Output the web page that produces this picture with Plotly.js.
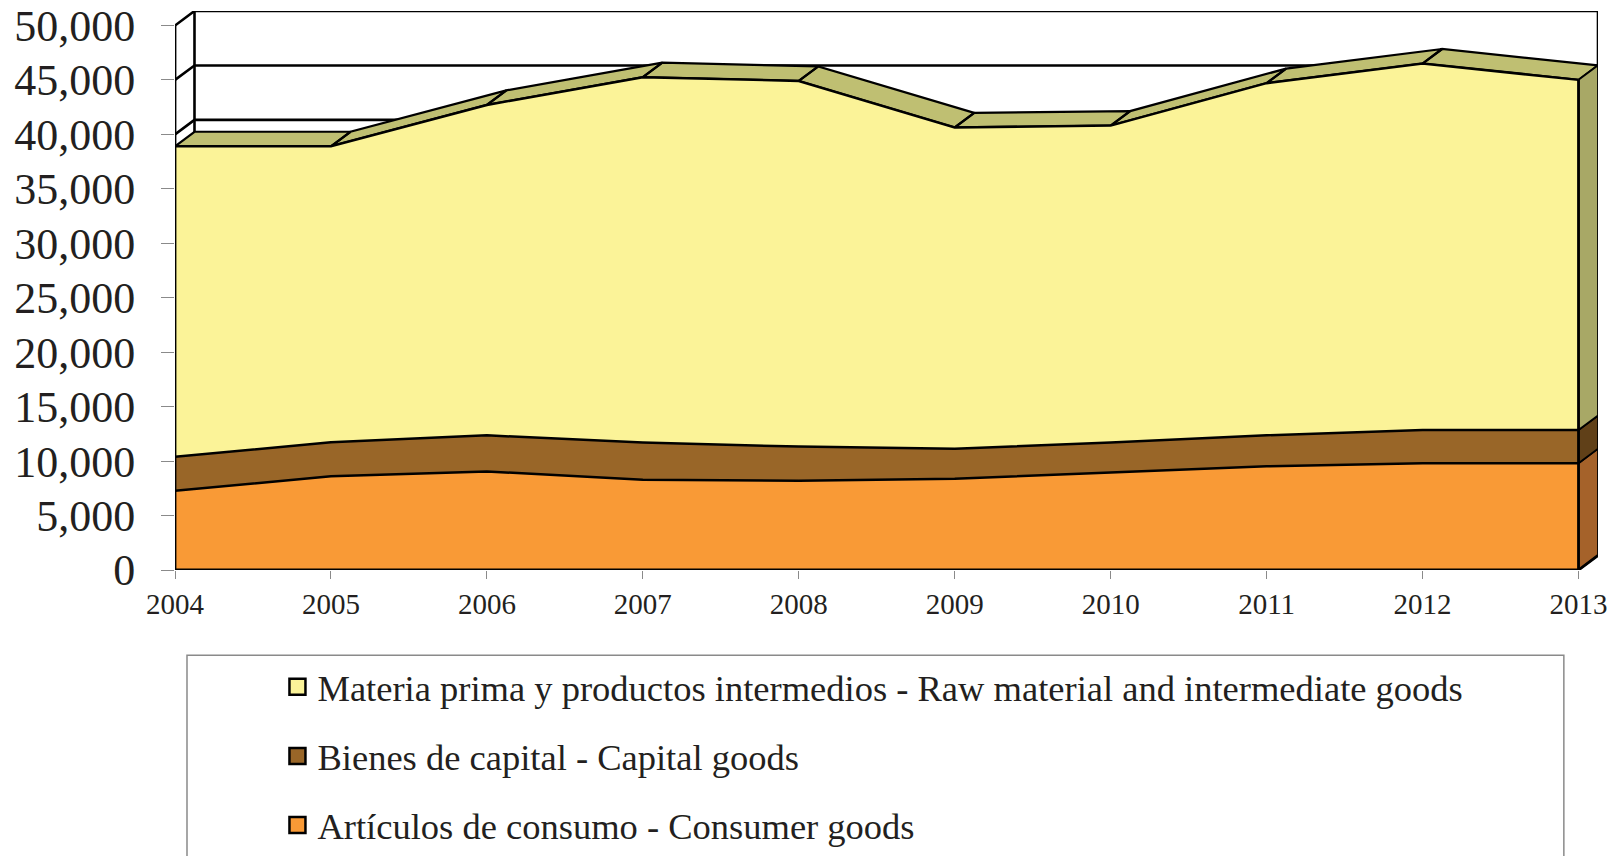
<!DOCTYPE html>
<html><head><meta charset="utf-8">
<script src="https://cdn.plot.ly/plotly-3.0.1.min.js"></script>
<style>html,body{margin:0;padding:0;background:#fff;overflow:hidden}</style>
</head><body><div id="chart" style="width:1615px;height:856px"></div>
<script>
const years = [2004,2005,2006,2007,2008,2009,2010,2011,2012,2013];
const consumer = [7270,8600,9050,8290,8200,8380,8960,9520,9810,9810];
const capital  = [3130,3130,3320,3410,3130,2760,2740,2850,3040,3040];
const rawMat   = [28510,27180,30340,33560,33580,29500,29110,32340,33660,32160];
const yTicks = [0,5000,10000,15000,20000,25000,30000,35000,40000,45000,50000];
const names = ['Materia prima y productos intermedios - Raw material and intermediate goods','Bienes de capital - Capital goods','Artículos de consumo - Consumer goods'];
const colors = {raw:'#fbf398',cap:'#996628',con:'#f99a36',top:'#bfbf72',rawSide:'#a8a866',capSide:'#604018',conSide:'#a5622a'};
const font = 'Liberation Serif, Times New Roman, serif', ink = '#231f20';
const DX = 0.125, DY = 1335, TOP = 50000, INK = '#000';

const capTop = consumer.map((v,i)=>v+capital[i]);
const total = capTop.map((v,i)=>v+rawMat[i]);
const last = years.length-1, xEnd = years[last], xStart = years[0];

function poly(fill, xs, ys, lw){
  return {type:'scatter',mode:'lines',x:xs,y:ys,fill:'toself',fillcolor:fill,line:{color:INK,width:lw},showlegend:false,hoverinfo:'skip',cliponaxis:false};
}
function lines(xs, ys, lw){
  return {type:'scatter',mode:'lines',x:xs,y:ys,line:{color:INK,width:lw},showlegend:false,hoverinfo:'skip',cliponaxis:false};
}
// back wall
const wx=[],wy=[];
[TOP,45000,40000].forEach(v=>{wx.push(xStart,xStart+DX,xEnd+DX,null);wy.push(v,v+DY,v+DY,null);});
wx.push(xStart+DX,xStart+DX,null, xEnd+DX,xEnd+DX,null);
wy.push(TOP+DY,DY,null, TOP+DY,DY,null);
// top faces of the upper area
const tx=[],ty=[];
for(let i=0;i<last;i++){
  tx.push(years[i],years[i+1],years[i+1]+DX,years[i]+DX,years[i],null);
  ty.push(total[i],total[i+1],total[i+1]+DY,total[i]+DY,total[i],null);
}
const side=(lo,hi,c)=>poly(c,[xEnd,xEnd+DX,xEnd+DX,xEnd,xEnd],[lo,lo+DY,hi+DY,hi,lo],1.8);
const stack=(vals,c)=>({type:'scatter',mode:'lines',x:years,y:vals,stackgroup:'a',fillcolor:c,line:{color:INK,width:2.5},showlegend:false,hoverinfo:'skip',cliponaxis:false});
const key=(name,c)=>({type:'scatter',mode:'markers',x:[null],y:[null],name:name,legendgroup:name,marker:{symbol:'square',size:18,color:c,line:{color:INK,width:2.5}},hoverinfo:'skip'});
// front frame
const frame = lines(
  [xStart,xStart,null,xStart,xEnd,xEnd+DX,null,xEnd,xEnd],
  [TOP,0,null,0,0,DY,null,0,total[last]],2.8);

const data = [
  lines(wx,wy,2.6),
  poly(colors.top,tx,ty,2.2),
  side(0,consumer[last],colors.conSide),
  side(consumer[last],capTop[last],colors.capSide),
  side(capTop[last],total[last],colors.rawSide),
  stack(consumer,colors.con),
  stack(capital,colors.cap),
  stack(rawMat,colors.raw),
  frame,
  key(names[0],colors.raw),
  key(names[1],colors.cap),
  key(names[2],colors.con)
];
const layout = {
  width:1615,height:856,paper_bgcolor:'#fff',plot_bgcolor:'#fff',
  margin:{l:175,r:17,t:11,b:286,autoexpand:false},
  font:{family:font,color:ink},
  xaxis:{range:[xStart,xEnd+DX],tickvals:years,tickformat:'d',showgrid:false,zeroline:false,showline:false,
    ticks:'outside',ticklen:8,tickwidth:1,tickcolor:'#8a8a8a',tickfont:{size:29,family:font,color:ink},ticklabelstandoff:0},
  yaxis:{range:[0,TOP+DY],tickvals:yTicks,tickformat:',d',showgrid:false,zeroline:false,showline:false,
    ticks:'outside',ticklen:13,tickwidth:1,tickcolor:'#8a8a8a',tickfont:{size:44,family:font,color:ink},ticklabelstandoff:17},
  showlegend:true,
  legend:{x:0.072,xanchor:'left',y:-0.155,yanchor:'top',bgcolor:'rgba(0,0,0,0)',borderwidth:0,
    font:{size:36.5,family:font,color:ink},tracegroupgap:18.6,itemclick:false,itemdoubleclick:false},
  shapes:[{type:'rect',xref:'paper',yref:'paper',x0:0.00843,x1:0.976,y0:-0.593,y1:-0.1523,line:{color:'#8a8a8a',width:1.5},fillcolor:'rgba(0,0,0,0)',layer:'below'}]
};
Plotly.newPlot('chart',data,layout,{displayModeBar:false,staticPlot:true});
</script></body></html>
